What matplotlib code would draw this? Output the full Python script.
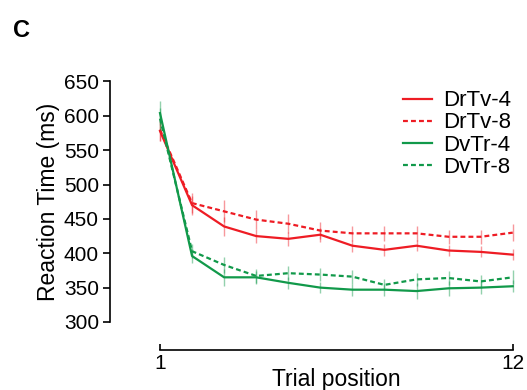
#!/usr/bin/env python3
# -*- coding: utf-8 -*-
"""
Reaction time by trial position, panel C.
"""

import matplotlib
matplotlib.use('Agg')
import matplotlib.pyplot as plt

trials = list(range(1, 13))

drtv4 = [578, 470, 439, 425, 421, 427, 411, 405, 411, 404, 402, 398]
drtv8 = [580, 473, 461, 449, 443, 433, 429, 429, 429, 424, 424, 430]
dvtr4 = [604, 396, 365, 365, 357, 350, 347, 347, 345, 349, 350, 352]
dvtr8 = [596, 403, 383, 367, 371, 369, 366, 354, 362, 364, 359, 365]

drtv4_err = [14, 14, 14, 10, 10, 10, 9, 9, 8, 8, 8, 8]
drtv8_err = [16, 14, 16, 14, 14, 12, 11, 11, 11, 10, 10, 12]
dvtr4_err = [18, 10, 12, 9, 9, 8, 9, 9, 12, 11, 10, 9]
dvtr8_err = [16, 10, 12, 10, 10, 10, 10, 8, 10, 10, 9, 10]

series_names = ['DrTv-4', 'DrTv-8', 'DvTr-4', 'DvTr-8']

RED = '#ee1c24'
GREEN = '#11994a'

plt.rcParams['font.family'] = ['Liberation Sans', 'DejaVu Sans']


def main():
    fig = plt.figure(figsize=(5.27, 3.9), dpi=100)
    ax = fig.add_axes([0.3036, 0.1744, 0.6693, 0.6167])

    series = [
        (drtv4, drtv4_err, RED, '-'),
        (drtv8, drtv8_err, RED, (0, (2.2, 1.4))),
        (dvtr4, dvtr4_err, GREEN, '-'),
        (dvtr8, dvtr8_err, GREEN, (0, (2.2, 1.4))),
    ]
    for name, (vals, err, color, ls) in zip(series_names, series):
        ax.errorbar(trials, vals, yerr=err, fmt='none', ecolor=color,
                    elinewidth=1.0, alpha=0.45, capsize=0, clip_on=False)
        ax.plot(trials, vals, color=color, linestyle=ls, linewidth=1.6,
                label=name, clip_on=False)

    ax.set_xlim(1, 12)
    ax.set_ylim(300, 650)
    ax.set_yticks(range(300, 651, 50))
    ax.set_xticks([1, 12])

    for s in ['top', 'right']:
        ax.spines[s].set_visible(False)
    ax.spines['left'].set_position(('outward', 36))
    ax.spines['bottom'].set_position(('outward', 20))
    ax.spines['left'].set_bounds(300, 650)
    ax.spines['bottom'].set_bounds(1, 12)
    ax.spines['left'].set_linewidth(1.2)
    ax.spines['bottom'].set_linewidth(1.2)

    ax.tick_params(axis='y', direction='out', length=5, width=1.2,
                   labelsize=15, pad=3)
    ax.tick_params(axis='x', direction='in', length=4, width=1.2,
                   labelsize=15, pad=3)

    ax.set_ylabel('Reaction Time (ms)', fontsize=16.5)
    ax.yaxis.set_label_coords(-0.2835, 0.5)
    ax.set_xlabel('Trial position', fontsize=16.5)
    ax.xaxis.set_label_coords(0.5, -0.19)

    ax.legend(loc='upper right', bbox_to_anchor=(1.02, 1.0), frameon=False,
              fontsize=16, handlelength=1.3, handletextpad=0.5,
              labelspacing=0.05, borderaxespad=0.0)

    fig.text(0.025, 0.905, 'C', fontsize=17, fontweight='bold')

    fig.savefig('out.png', dpi=100)
    plt.close(fig)


if __name__ == '__main__':
    main()
